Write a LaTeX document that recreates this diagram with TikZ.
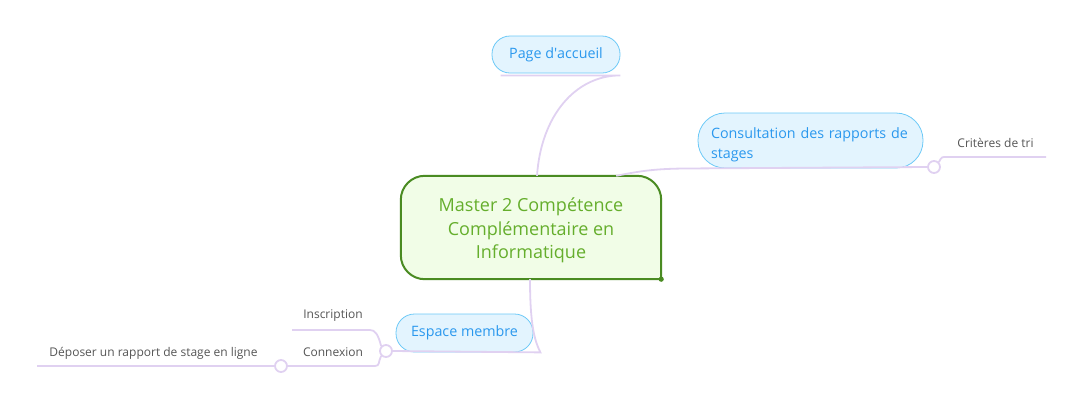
\documentclass[tikz,border=0pt]{standalone}
\usepackage{fontspec}
\setmainfont{Open Sans}
\usepackage{tikz}
\usetikzlibrary{positioning, backgrounds}
\definecolor{mapgreen}{HTML}{4A8B22}
\definecolor{mapgreenfill}{HTML}{F1FDE7}
\definecolor{mapgreentext}{HTML}{65AE2C}
\definecolor{mapblue}{HTML}{6CC9F7}
\definecolor{mapbluefill}{HTML}{E3F4FE}
\definecolor{mapbluetext}{HTML}{2A98EE}
\definecolor{maplilac}{HTML}{E0D1F1}
\definecolor{mapgray}{HTML}{555555}

\begin{document}
\begin{tikzpicture}[x=1pt, y=1pt,
    root/.style={minimum width=260pt, minimum height=103pt, inner sep=0pt,
                 align=center, text=mapgreentext, font=\fontsize{18}{23.5}\selectfont},
    rootframe/.style={draw=mapgreen, fill=mapgreenfill, line width=2pt,
                      rounded corners=24pt, line cap=rect},
    topic/.style={draw=mapblue, fill=mapbluefill, line width=0.8pt, inner sep=0pt,
                  text=mapbluetext, font=\fontsize{14.3}{20}\selectfont},
    leaf/.style={text=mapgray, inner sep=0pt, font=\fontsize{12}{14}\selectfont},
    branch/.style={draw=maplilac, line width=1.8pt},
    knot/.style={circle, draw=maplilac, line width=1.8pt, fill=white,
                 minimum size=12pt, inner sep=0pt},
  ]
    \useasboundingbox (0,0) rectangle (1070,-408);

    % central topic
    \node[root, text height=66pt, text depth=4pt] (master) at (531,-227.5)
      {Master 2 Compétence\\Complémentaire en\\Informatique};
    \begin{scope}[on background layer]
      \draw[rootframe] (master.south east) -- (master.south west) -- (master.north west)
        -- (master.north east) -- (master.south east);
    \end{scope}
    \fill[mapgreen] (master.south east) circle (2.6);

    % main topics
    \node[topic, minimum width=128pt, minimum height=37pt, rounded corners=18pt]
      (accueil) at (556,-54.5) {Page d\textquotesingle accueil};
    \node[topic, minimum width=225pt, minimum height=55pt, rounded corners=27pt,
          text width=199pt, align=left, text height=8pt, text depth=12pt]
      (consult) at (810.5,-140.5) {Consultation des rapports de\\stages};
    \node[topic, minimum width=137pt, minimum height=38pt, rounded corners=18.5pt]
      (membre) at (464.5,-333) {Espace membre};

    % knots
    \node[knot] (k1) at (934,-167) {};
    \node[knot] (k2) at (386,-351) {};
    \node[knot] (k3) at (281,-366) {};

    % subtopics
    \node[leaf] (tri) at (995.5,-143) {Critères de tri};
    \node[leaf] (inscr) at (333,-316) {Inscription};
    \node[leaf] (connex) at (333,-352) {Connexion};
    \node[leaf] (depot) at (153.5,-353) {Déposer un rapport de stage en ligne};
    \coordinate (tribend) at (948,-157);
    \coordinate (triend) at (1046,-157);
    \coordinate (inscrbend) at (370,-330);
    \coordinate (inscrend) at (292,-330);
    \coordinate (connexbend) at (375,-366);
    \coordinate (depotend) at (37,-366);

    % branches
    \draw[branch] ([xshift=6pt]master.north) .. controls +(4,60) and +(-45,0)
      .. ([yshift=-2pt]accueil.south east) -- ([xshift=9pt, yshift=-2pt]accueil.south west);
    \draw[branch] ([xshift=-45pt]master.north east) .. controls +(30,6) and +(-40,0)
      .. ([xshift=2pt]consult.south west) -- (k1.west);
    \draw[branch] (k1.north east) .. controls +(3,6) and +(-6,0) .. (tribend) -- (triend);
    \draw[branch] ([xshift=-1pt]master.south) .. controls +(0,-45) and +(-6,12)
      .. ([xshift=7pt]membre.south east) -- (k2.east);
    \draw[branch] (k2.north west) .. controls +(-3,12) and +(5,0) .. (inscrbend) -- (inscrend);
    \draw[branch] (k2.south west) .. controls +(-3,-6) and +(5,0) .. (connexbend) -- (k3.east);
    \draw[branch] (k3.west) -- (depotend);
  \end{tikzpicture}
\end{document}
